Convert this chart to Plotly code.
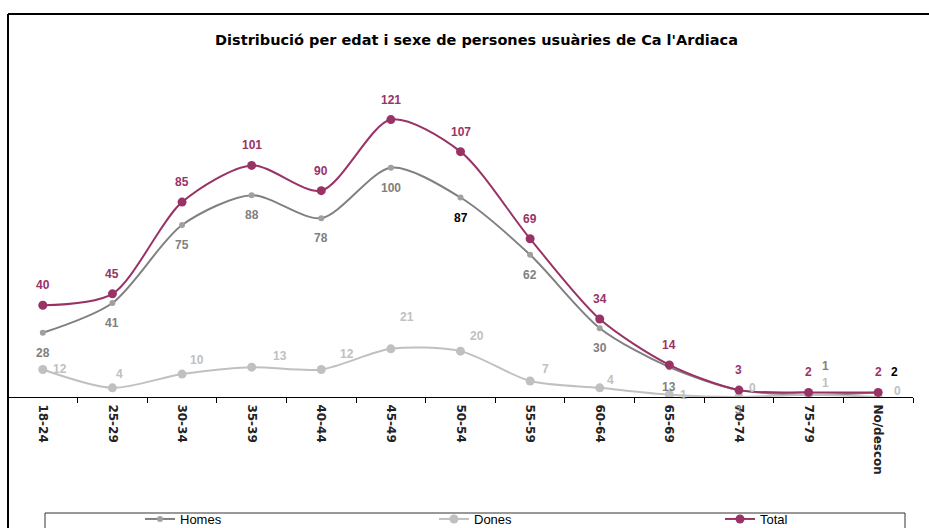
import plotly.graph_objects as go

categories = ["18-24", "25-29", "30-34", "35-39", "40-44", "45-49", "50-54",
              "55-59", "60-64", "65-69", "70-74", "75-79", "No/descon"]
homes = [28, 41, 75, 88, 78, 100, 87, 62, 30, 13, 3, 1, 2]
dones = [12, 4, 10, 13, 12, 21, 20, 7, 4, 1, 0, 1, 0]
total = [40, 45, 85, 101, 90, 121, 107, 69, 34, 14, 3, 2, 2]

title_text = "Distribució per edat i sexe de persones usuàries de Ca l'Ardiaca"

C_TOTAL = "#993366"
C_HOMES = "#808080"
C_HOMES_MK = "#A0A0A0"
C_DONES = "#C0C0C0"

# label offsets in pixels (dx, dy) — styling only
homes_off = [(0, 20)] * 11 + [(17, -29), (16, -20)]
homes_col = [C_HOMES] * 6 + ["#000000"] + [C_HOMES] * 4 + [C_HOMES, "#000000"]
dones_off = [(17, 0), (7, -14), (15, -14), (28, -11), (26, -15), (16, -32), (16, -15),
             (15, -12), (11, -8), (14, 0), (14, -9), (17, -12), (19, -6)]
total_off = [(0, -20)] * 13

fig = go.Figure()
fig.add_trace(go.Scatter(x=categories, y=homes, name="Homes", mode="lines+markers", legend="legend",
                         line=dict(color=C_HOMES, width=2, shape="spline", smoothing=0.8),
                         marker=dict(color=C_HOMES_MK, size=6)))
fig.add_trace(go.Scatter(x=categories, y=dones, name="Dones", mode="lines+markers", legend="legend2",
                         line=dict(color=C_DONES, width=2, shape="spline", smoothing=0.8),
                         marker=dict(color=C_DONES, size=9)))
fig.add_trace(go.Scatter(x=categories, y=total, name="Total", mode="lines+markers", legend="legend3",
                         line=dict(color=C_TOTAL, width=2, shape="spline", smoothing=0.8),
                         marker=dict(color=C_TOTAL, size=9)))

annotations = []
def add_labels(vals, offs, cols):
    for c, v, (dx, dy), col in zip(categories, vals, offs, cols):
        annotations.append(dict(x=c, y=v, xref="x", yref="y", text="<b>" + str(v) + "</b>",
                                showarrow=False, xshift=dx, yshift=-dy,
                                font=dict(family="Liberation Sans, Arial", size=12, color=col)))

add_labels(homes, homes_off, homes_col)
add_labels(dones, dones_off, [C_DONES] * 13)
add_labels(total, total_off, [C_TOTAL] * 13)

W, H = 929, 528
L, R, T, B = 8, 16, 76, 131
pw, ph = W - L - R, H - T - B
def px(x):
    return (x - L) / pw
def py(y):
    return (H - B - y) / ph

shapes = [
    dict(type="line", xref="paper", yref="paper", x0=px(8), x1=px(940), y0=py(14), y1=py(14),
         line=dict(color="#000000", width=2)),
    dict(type="line", xref="paper", yref="paper", x0=px(8), x1=px(8), y0=py(14), y1=py(540),
         line=dict(color="#000000", width=2)),
    dict(type="rect", xref="paper", yref="paper", x0=px(45), x1=px(905), y0=py(513), y1=py(540),
         line=dict(color="#333333", width=1)),
]

leg_font = dict(family="Liberation Sans Narrow, Arial Narrow, Liberation Sans", size=13, color="#000000")
def leg(xp):
    return dict(orientation="h", x=px(xp), xanchor="left", y=py(504), yanchor="top",
                bgcolor="rgba(0,0,0,0)", font=leg_font, itemclick=False, itemdoubleclick=False)

fig.update_layout(
    width=W, height=H,
    margin=dict(l=L, r=R, t=T, b=B, autoexpand=False),
    paper_bgcolor="white", plot_bgcolor="white",
    title=dict(text="<b>" + title_text + "</b>", x=476.5 / W, xref="container", xanchor="center",
               y=1 - 40 / H, yref="container", yanchor="middle",
               font=dict(family="DejaVu Sans", size=14.5, color="#000000")),
    xaxis=dict(type="category", range=[-0.5, 12.5], showline=True, linecolor="#000000", linewidth=1,
               ticks="outside", tickson="boundaries", ticklen=5, tickcolor="#000000",
               tickangle=90, showgrid=False, zeroline=False, automargin=False,
               ticklabelstandoff=4,
               tickfont=dict(family="DejaVu Sans", size=12, color="#222222"),
               tickprefix="<b>", ticksuffix="</b>"),
    yaxis=dict(range=[0, 140], showline=False, showticklabels=False, showgrid=False,
               zeroline=False, ticks="", automargin=False),
    showlegend=True,
    legend=leg(140), legend2=leg(434), legend3=leg(720),
    annotations=annotations,
    shapes=shapes,
)

fig.write_html("out.html", config={"displayModeBar": False},
               post_script="document.body.style.margin='0';document.body.style.overflow='hidden';")
